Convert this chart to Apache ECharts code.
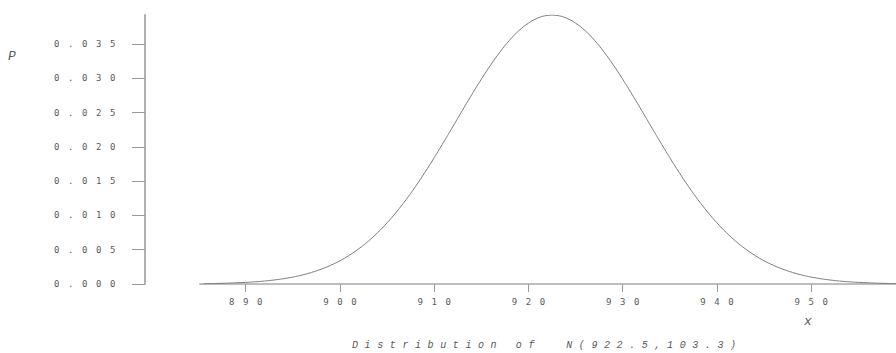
<!DOCTYPE html>
<html>
<head>
<meta charset="utf-8">
<title>Distribution of N(922.5,103.3)</title>
<script src="https://cdn.jsdelivr.net/npm/echarts@6/dist/echarts.min.js"></script>
<style>
  html, body { margin: 0; padding: 0; background: #ffffff; }
  #chart { width: 896px; height: 353px; }
  /* wide, tracked lettering for every label */
  #chart text { letter-spacing: 8.6px; }
  #chart text[style*="italic"] { letter-spacing: 6.6px; }
</style>
</head>
<body>
<div id="chart"></div>
<script>
// density curve sample points
const xValues = [
  885.5, 886.5, 887.5, 888.5, 889.5, 890.5, 891.5, 892.5, 893.5, 894.5,
  895.5, 896.5, 897.5, 898.5, 899.5, 900.5, 901.5, 902.5, 903.5, 904.5,
  905.5, 906.5, 907.5, 908.5, 909.5, 910.5, 911.5, 912.5, 913.5, 914.5,
  915.5, 916.5, 917.5, 918.5, 919.5, 920.5, 921.5, 922.5, 923.5, 924.5,
  925.5, 926.5, 927.5, 928.5, 929.5, 930.5, 931.5, 932.5, 933.5, 934.5,
  935.5, 936.5, 937.5, 938.5, 939.5, 940.5, 941.5, 942.5, 943.5, 944.5,
  945.5, 946.5, 947.5, 948.5, 949.5, 950.5, 951.5, 952.5, 953.5, 954.5,
  955.5, 956.5, 957.5, 958.5, 959.5
];
const pValues = [
  0.00005, 0.00007, 0.00010, 0.00015, 0.00020, 0.00028, 0.00037, 0.00050, 0.00067, 0.00088,
  0.00115, 0.00149, 0.00191, 0.00242, 0.00303, 0.00377, 0.00464, 0.00566, 0.00684, 0.00818,
  0.00969, 0.01137, 0.01321, 0.01520, 0.01732, 0.01955, 0.02185, 0.02419, 0.02652, 0.02879,
  0.03096, 0.03297, 0.03478, 0.03633, 0.03758, 0.03850, 0.03906, 0.03925, 0.03906, 0.03850,
  0.03758, 0.03633, 0.03478, 0.03297, 0.03096, 0.02879, 0.02652, 0.02419, 0.02185, 0.01955,
  0.01732, 0.01520, 0.01321, 0.01137, 0.00969, 0.00818, 0.00684, 0.00566, 0.00464, 0.00377,
  0.00303, 0.00242, 0.00191, 0.00149, 0.00115, 0.00088, 0.00067, 0.00050, 0.00037, 0.00028,
  0.00020, 0.00015, 0.00010, 0.00007, 0.00005
];

// axis ticks
const xTicks = [890, 900, 910, 920, 930, 940, 950];
const yTicks = [0, 0.005, 0.010, 0.015, 0.020, 0.025, 0.030, 0.035];

// axis extents
const xMin = 885.15;
const xMax = 959;
const yMax = 0.03925;

const titleText = 'Distribution of  N(922.5,103.3)';
const yName = 'P';
const xName = 'x';

const labelColor = '#5a5a5a';
const tickFont = 'DejaVu Sans Mono';

const chart = echarts.init(document.getElementById('chart'), null, { renderer: 'svg' });

chart.setOption({
  animation: false,
  backgroundColor: '#ffffff',
  grid: { left: 200, right: 0, top: 15, bottom: 69, containLabel: false },
  xAxis: {
    type: 'value',
    min: xMin,
    max: xMax,
    axisLine: { show: true, lineStyle: { color: '#bdbdbd', width: 2 } },
    axisTick: {
      show: true, length: 8, inside: false,
      customValues: xTicks,
      lineStyle: { color: '#9a9a9a', width: 1 }
    },
    axisLabel: {
      show: true,
      customValues: xTicks,
      margin: 13,
      padding: [0, 0, 0, 8.6],
      color: labelColor,
      fontFamily: tickFont,
      fontSize: 9,
      formatter: v => String(Math.round(v))
    },
    splitLine: { show: false }
  },
  yAxis: {
    type: 'value',
    min: 0,
    max: yMax,
    offset: 55,
    axisLine: { show: true, lineStyle: { color: '#b0b0b0', width: 2 } },
    axisTick: {
      show: true, length: 13, inside: false,
      customValues: yTicks,
      lineStyle: { color: '#9a9a9a', width: 1 }
    },
    axisLabel: {
      show: true,
      customValues: yTicks,
      margin: 21,
      color: labelColor,
      fontFamily: tickFont,
      fontSize: 9,
      formatter: v => v.toFixed(3)
    },
    splitLine: { show: false }
  },
  graphic: [
    {
      type: 'text', left: 8, top: 50,
      style: { text: yName, fill: labelColor, font: 'italic 13px "Liberation Mono"' }
    },
    {
      type: 'text', left: 804, top: 315,
      style: { text: xName, fill: labelColor, font: 'italic 13px "Liberation Mono"' }
    },
    {
      type: 'text', left: 352, top: 340,
      style: { text: titleText, fill: labelColor, font: 'italic 10px "Liberation Mono"' }
    }
  ],
  series: [
    {
      type: 'line',
      data: xValues.map((x, i) => [x, pValues[i]]),
      showSymbol: false,
      smooth: 0.2,
      lineStyle: { color: '#7d7d7d', width: 1 },
      silent: true
    }
  ]
});
</script>
</body>
</html>
